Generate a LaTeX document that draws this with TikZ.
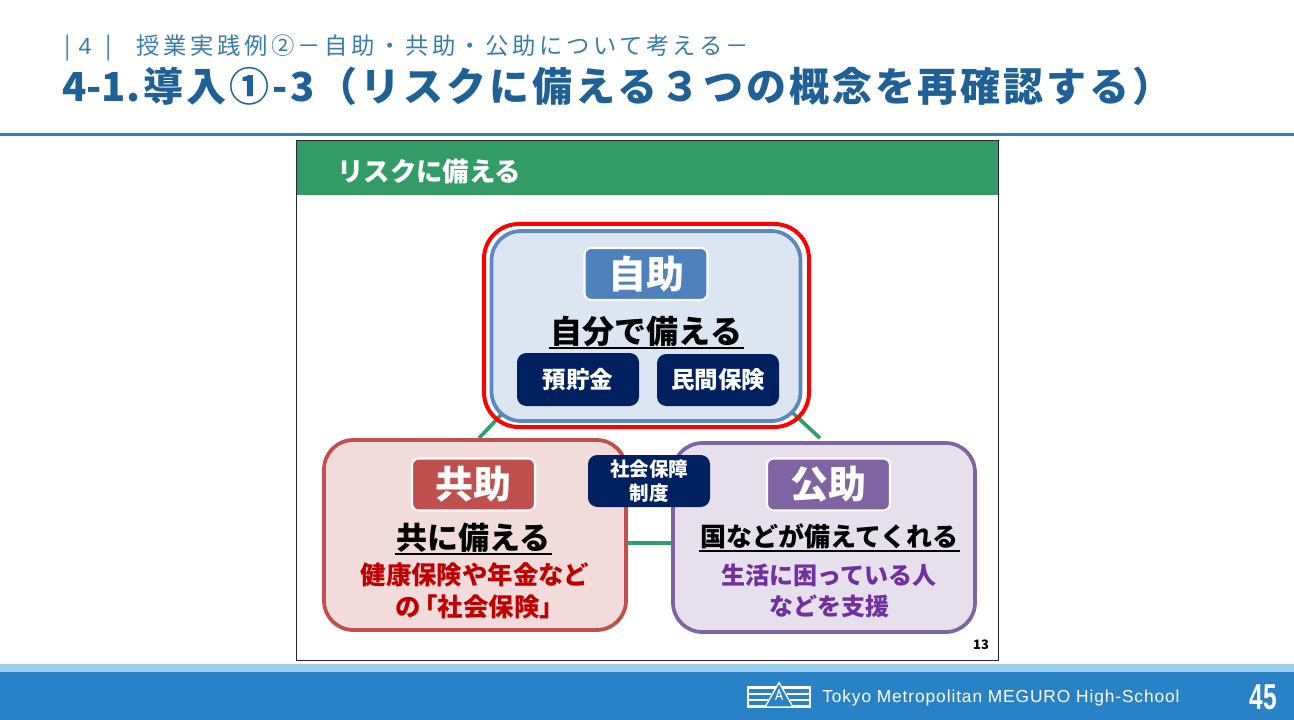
\documentclass[tikz,border=0pt]{standalone}
\usepackage{fontspec}
\usetikzlibrary{backgrounds,shadows}
\setmainfont{Noto Sans CJK JP}
\newfontfamily\latinf{Liberation Sans}
\definecolor{titleblue}{HTML}{1F6096}
\definecolor{subblue}{HTML}{3A7CAB}
\definecolor{rulecol}{HTML}{2E80BD}
\definecolor{footdark}{HTML}{2A82C6}
\definecolor{footlight}{HTML}{9CCBEB}
\definecolor{hdrgreen}{HTML}{339B66}
\definecolor{linkgreen}{HTML}{2F9E6B}
\definecolor{navy}{HTML}{002060}
\definecolor{bluefill}{HTML}{DCE6F2}
\definecolor{blueline}{HTML}{5B88BE}
\definecolor{bluetag}{HTML}{4F81BD}
\definecolor{redfill}{HTML}{F2DCDB}
\definecolor{redline}{HTML}{C0504D}
\definecolor{purfill}{HTML}{E6E0EC}
\definecolor{purline}{HTML}{8064A2}
\definecolor{redtext}{HTML}{C00000}
\definecolor{purtext}{HTML}{7030A0}
\newcommand{\pxfont}[1]{\bfseries\fontsize{\the\dimexpr #1pt*3/4\relax}{\the\dimexpr #1pt*9/10\relax}\selectfont}
\pgfdeclarelayer{links}
\pgfsetlayers{background,links,main}
\tikzset{
  px/.style={font=\pxfont{#1}},
  panel/.style={rectangle,rounded corners=22pt,inner sep=0pt,line width=2.8pt},
  tag/.style={rectangle,rounded corners=5pt,inner sep=0pt,draw=white,line width=1.6pt,text=white,
    minimum width=123*0.75pt,minimum height=52*0.75pt,
    drop shadow={opacity=.3,shadow xshift=0.4pt,shadow yshift=-0.9pt}},
  navybox/.style={rectangle,rounded corners=7pt,inner sep=0pt,fill=navy,text=white},
  head/.style={anchor=base,inner xsep=1.2pt,inner ysep=0pt,text depth=3.5pt,text=black},
  body/.style={anchor=base,inner sep=0pt},
  ul/.style={draw=black,line width=1.3pt},
  conn/.style={draw=linkgreen,line width=2.8pt},
}
\begin{document}
\begin{tikzpicture}[x=0.75pt,y=-0.75pt]
\useasboundingbox (0,0) rectangle (1294,720);
% page furniture
\node[anchor=base west,inner sep=0pt,text=subblue,font=\fontsize{17.5pt}{17.5pt}\selectfont] (sub) at (64,55)
  {|\hspace{0.34em}{\latinf 4}\hspace{0.58em}|\hspace{1.1em}\addfontfeature{LetterSpace=15}授業実践例②－自助・共助・公助について考える－};
\node[anchor=base west,inner sep=0pt,text=titleblue,px=40] (title) at (62,102)
  {4-1.\kern2.2pt\addfontfeature{LetterSpace=7.4}導入①-3（リスクに備える３つの概念を再確認する）};
\fill[rulecol] (0,133) rectangle (1294,136);
\fill[footlight] (0,664) rectangle (1294,672);
\fill[footdark] (0,672) rectangle (1294,720);
% slide frame
\begin{pgfonlayer}{background}
\node[draw=black!85,fill=white,line width=0.7pt,minimum width=702*0.75pt,minimum height=520*0.75pt,inner sep=0pt] (slide) at (647,400) {};
\fill[hdrgreen] (296.5,141) rectangle (997.5,195);
\end{pgfonlayer}
\node[anchor=base west,inner sep=0pt,text=white,px=26.4] (hdr) at (337,182) {リスクに備える};
% panels
\node[panel,draw=red,line width=3pt,rounded corners=26pt,minimum width=325*0.75pt,minimum height=203*0.75pt] (ring) at (646.5,325.5) {};
\node[panel,draw=blueline,fill=bluefill,minimum width=309*0.75pt,minimum height=190*0.75pt] (jijo) at (646,326) {};
\node[panel,draw=redline,fill=redfill,minimum width=302*0.75pt,minimum height=190*0.75pt] (kyojo) at (475,535) {};
\node[panel,draw=purline,fill=purfill,minimum width=302*0.75pt,minimum height=189*0.75pt] (koujo) at (824,537.5) {};
% connectors behind panels
\begin{pgfonlayer}{links}
\draw[conn] ([shift={(4,0)}]kyojo.north) -- ([shift={(20,-17)}]jijo.south west);
\draw[conn] ([shift={(-4,-3)}]koujo.north) -- ([shift={(-14,-14)}]jijo.south east);
\draw[conn] ([shift={(0,8)}]kyojo.east) -- ([shift={(0,5.5)}]koujo.west);
\end{pgfonlayer}
% self help
\node[tag,fill=bluetag,px=38] (tagjijo) at (646,274) {自助};
\node[head,px=32] (hjijo) at (646.5,343) {自分で備える};
\draw[ul] (hjijo.south west) -- (hjijo.south east);
\node[navybox,minimum width=122*0.75pt,minimum height=53*0.75pt,px=23.5] (yochokin) at (578,379.5) {預貯金};
\node[navybox,minimum width=122*0.75pt,minimum height=52*0.75pt,px=23.5] (minkan) at (718,380) {民間保険};
% mutual help
\node[tag,fill=redline,px=38] (tagkyojo) at (473.5,484.5) {共助};
\node[head,px=31] (hkyojo) at (473.5,549) {共に備える};
\draw[ul] (hkyojo.south west) -- (hkyojo.south east);
\node[body,text=redtext,px=25.4] (k1) at (475,584) {健康保険や年金など};
\node[body,text=redtext,px=25.4] (k2) at (474,616) {の\kern-.35em「社会保険」\kern-.5em};
% public help
\node[tag,fill=purline,px=38] (tagkoujo) at (828.5,484.5) {公助};
\node[head,px=26] (hkoujo) at (829.5,546) {国などが備えてくれる};
\draw[ul] (hkoujo.south west) -- (hkoujo.south east);
\node[body,text=purtext,px=24] (p1) at (829,584) {生活に困っている人};
\node[body,text=purtext,px=24] (p2) at (829,615) {などを支援};
% system box
\node[navybox,minimum width=122*0.75pt,minimum height=52*0.75pt,px=19.5,align=center] (seido) at (649,481)
  {社会保障\\[0.5pt]制度};
\node[anchor=center,inner sep=0pt,text=black,px=13] (pageno) at (981,645) {13};
% footer
\node[anchor=base west,inner sep=0pt,text=white,font=\latinf\fontsize{13pt}{13pt}\selectfont] (school) at (822,702)
  {\addfontfeature{LetterSpace=5.2}Tokyo Metropolitan MEGURO High-School};
\node[anchor=center,inner sep=0pt,text=white,font=\latinf\bfseries\fontsize{27pt}{27pt}\selectfont,xscale=0.68] (pg) at (1263,697) {45};
% logo
\fill[white] (747,686) rectangle (811,689);
\fill[white] (747,704.5) rectangle (811,707.5);
\fill[white] (747,692.5) rectangle (771,694.5);
\fill[white] (787,692.5) rectangle (811,694.5);
\fill[white] (747,698.5) rectangle (768,700.5);
\fill[white] (790,698.5) rectangle (811,700.5);
\fill[white] (747,686) rectangle (749,707.5);
\fill[white] (809,686) rectangle (811,707.5);
\draw[white,line width=1pt,fill=footdark,line join=round] (779,682.5) -- (765,707) -- (793,707) -- cycle;
\draw[white,line width=0.8pt] (775.5,700) -- (779,690) -- (782.5,700) (776.5,696.5) -- (781.5,696.5);
\end{tikzpicture}
\end{document}
